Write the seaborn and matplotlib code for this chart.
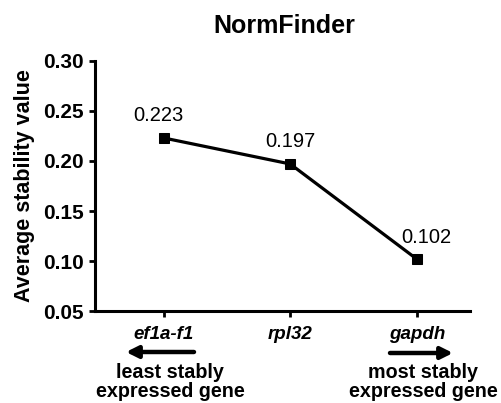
import matplotlib
matplotlib.use("Agg")
import matplotlib.pyplot as plt
import seaborn as sns
import pandas as pd

genes = ["ef1a-f1", "rpl32", "gapdh"]
stability = [0.223, 0.197, 0.102]
value_labels = ["0.223", "0.197", "0.102"]
y_ticks = [0.05, 0.10, 0.15, 0.20, 0.25, 0.30]
title = "NormFinder"
y_title = "Average stability value"
left_note = "least stably\nexpressed gene"
right_note = "most stably\nexpressed gene"

sns.set_style("ticks")
plt.rcParams["font.family"] = ["Liberation Sans", "DejaVu Sans"]
plt.rcParams["text.color"] = "black"
plt.rcParams["axes.labelcolor"] = "black"
plt.rcParams["xtick.color"] = "black"
plt.rcParams["ytick.color"] = "black"
plt.rcParams["axes.edgecolor"] = "black"

df = pd.DataFrame({"gene": genes, "value": stability, "pos": range(len(genes))})

fig = plt.figure(figsize=(5.01, 4.03), dpi=100)
ax = fig.add_axes([0.19, 0.228, 0.748, 0.621])

sns.lineplot(data=df, x="pos", y="value", ax=ax, color="black", lw=2.3,
             marker="s", markersize=7.5, markeredgecolor="black")

ax.set_xlim(-0.54, 2.42)
ax.set_ylim(0.05, 0.30)
ax.set_yticks(y_ticks)
ax.set_yticklabels([f"{t:.2f}" for t in y_ticks], fontsize=15, fontweight="bold")
ax.set_xticks(df["pos"])
ax.set_xticklabels(genes, fontsize=13.5, fontweight="bold", style="italic")
ax.set_xlabel("")
ax.set_ylabel(y_title, fontsize=15.5, fontweight="bold", labelpad=6)
ax.tick_params(axis="both", direction="out", length=4, width=2, colors="black", pad=4)
ax.tick_params(axis="x", pad=7)
for s in ["top", "right"]:
    ax.spines[s].set_visible(False)
for s in ["left", "bottom"]:
    ax.spines[s].set_linewidth(2.2)
    ax.spines[s].set_color("black")

offsets = [-4, 0, 7]
for p, v, lab, dx in zip(df["pos"], stability, value_labels, offsets):
    ax.annotate(lab, (p, v), xytext=(dx, 9), textcoords="offset points",
                ha="center", va="bottom", fontsize=14.5, color="black")

fig.text(284 / 501, 0.935, title, ha="center", va="center", fontsize=18,
         fontweight="bold", color="black")

# direction arrows and notes
ax.annotate("", xy=(126 / 501, 1 - 352 / 403), xytext=(194 / 501, 1 - 352 / 403),
            xycoords="figure fraction", textcoords="figure fraction",
            arrowprops=dict(arrowstyle="-|>,head_length=0.5,head_width=0.25", lw=3.2,
                            color="black", mutation_scale=14, shrinkA=0, shrinkB=0))
ax.annotate("", xy=(453 / 501, 1 - 353 / 403), xytext=(390 / 501, 1 - 353 / 403),
            xycoords="figure fraction", textcoords="figure fraction",
            arrowprops=dict(arrowstyle="-|>,head_length=0.5,head_width=0.25", lw=3.2,
                            color="black", mutation_scale=14, shrinkA=0, shrinkB=0))
fig.text(170 / 501, 1 - 382 / 403, left_note, ha="center", va="center",
         fontsize=14.2, fontweight="bold", linespacing=1.0, color="black")
fig.text(423 / 501, 1 - 382 / 403, right_note, ha="center", va="center",
         fontsize=14.2, fontweight="bold", linespacing=1.0, color="black")

fig.savefig("out.png", dpi=100)
